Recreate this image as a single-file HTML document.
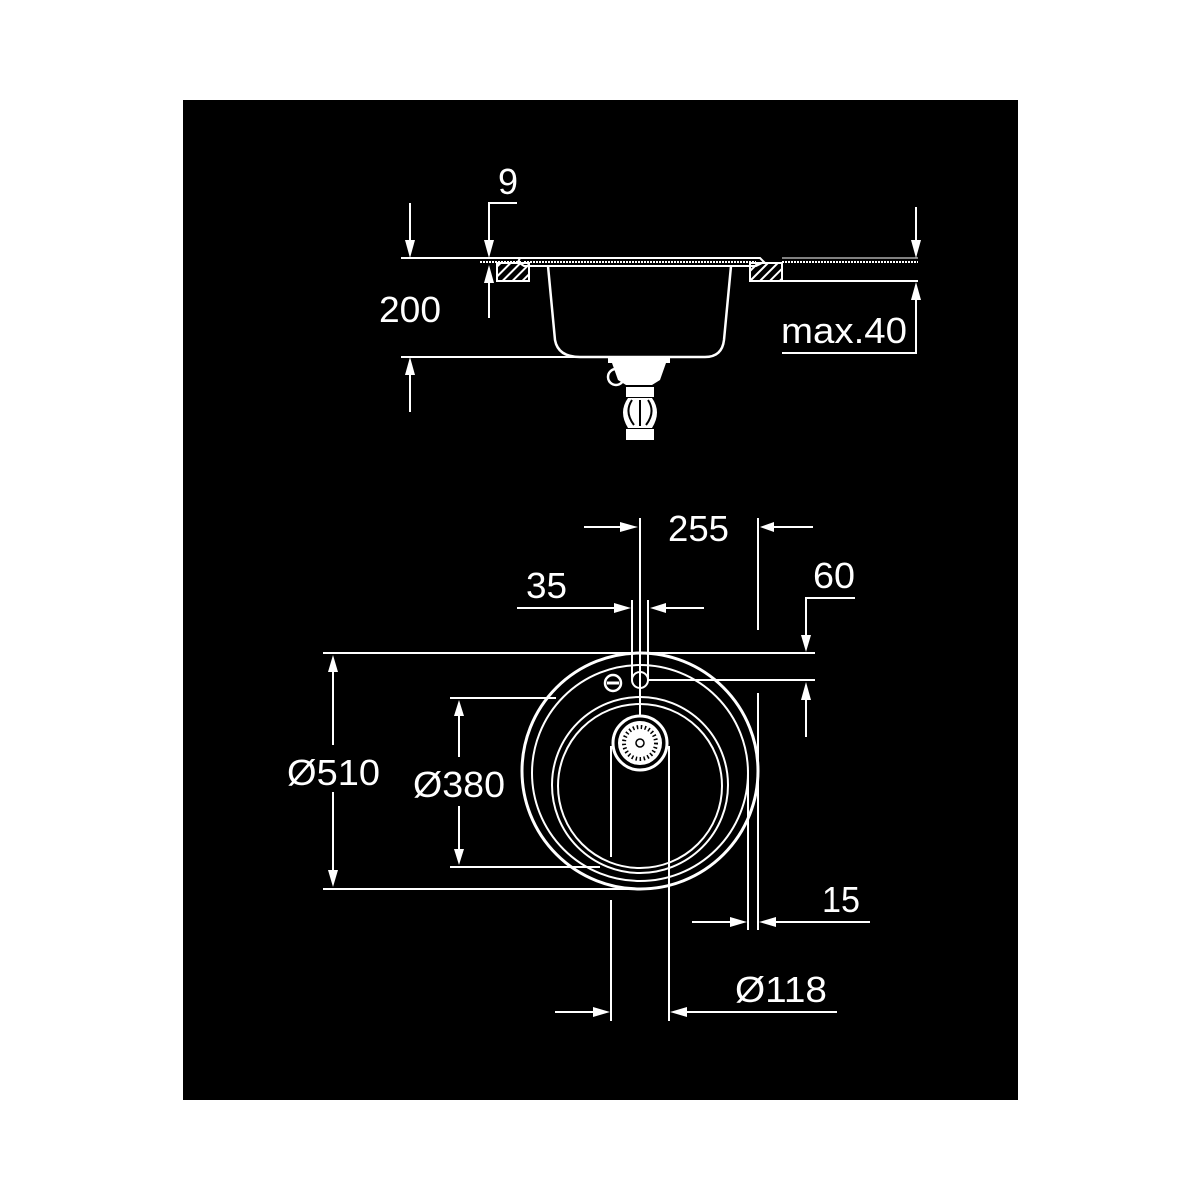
<!DOCTYPE html>
<html><head><meta charset="utf-8"><style>
html,body{margin:0;padding:0;background:#fff;}
svg{display:block;}
text{font-family:"Liberation Sans",sans-serif;font-size:36px;fill:#fff;}
</style></head><body>
<svg width="1200" height="1200" viewBox="0 0 1200 1200" xmlns="http://www.w3.org/2000/svg">
<defs>
<pattern id="h" width="7" height="7" patternUnits="userSpaceOnUse" patternTransform="rotate(45)">
<rect width="7" height="7" fill="#000"/><rect width="2" height="7" fill="#fff"/>
</pattern>
</defs>
<rect x="0" y="0" width="1200" height="1200" fill="#fff"/>
<rect x="183" y="100" width="835" height="1000" fill="#000"/>
<g stroke="#fff" stroke-width="2" fill="none">
<!-- TOP VIEW -->
<line x1="401" y1="258" x2="522" y2="258"/>
<line x1="480" y1="262" x2="522" y2="262" stroke-dasharray="2 1"/>
<rect x="497" y="263" width="32" height="18" fill="url(#h)"/>
<rect x="750" y="263" width="32" height="18" fill="url(#h)"/>
<line x1="782" y1="262" x2="918" y2="262" stroke-dasharray="2 1"/>
<line x1="750" y1="281" x2="918" y2="281"/>
<line x1="782" y1="258" x2="918" y2="258" stroke-width="1"/>
<path d="M520 258 L760 258 L764 262 L756 266 L524 266 L518 262 Z" stroke-width="2"/>
<line x1="524" y1="262" x2="756" y2="262" stroke-dasharray="2 1"/>
<path d="M548 266 L555 340 Q558 357 580 357 L705 357 Q722 357 724 340 L731 266" stroke-width="2.5"/>
<line x1="401" y1="357" x2="580" y2="357"/>
<!-- drain side -->
<g fill="#fff" stroke="none">
<rect x="608" y="358" width="62" height="5"/>
<path d="M612 363 L666 363 L660 380 L652 385 L626 385 L618 380 Z"/>
<circle cx="616" cy="377" r="8" fill="none" stroke="#fff" stroke-width="2.5"/>
<rect x="626" y="387" width="28" height="10"/>
<path d="M628 398 Q618 412 628 428 L652 428 Q662 412 652 398 Z"/>
<rect x="626" y="429" width="28" height="11"/>
</g>
<path d="M632 400 Q624 412 634 425 M648 400 Q656 412 646 425 M640 400 L640 426" stroke="#000" stroke-width="2"/>
<!-- 200 -->
<line x1="410" y1="203" x2="410" y2="240"/>
<line x1="410" y1="375" x2="410" y2="412"/>
<!-- 9 -->
<polyline points="517,203 489,203 489,240"/>
<line x1="489" y1="283" x2="489" y2="318"/>
<!-- max.40 -->
<line x1="916" y1="207" x2="916" y2="240"/>
<polyline points="782,353 916,353 916,300"/>
<!-- BOTTOM VIEW circles -->
<circle cx="640" cy="771" r="118" stroke-width="3"/>
<circle cx="640" cy="773" r="108"/>
<circle cx="640" cy="785" r="88"/>
<circle cx="640" cy="786" r="82"/>
<!-- drain -->
<circle cx="640" cy="743" r="27" stroke-width="3"/>
<circle cx="640" cy="743" r="22" fill="#fff" stroke="none"/>
<circle cx="640" cy="743" r="16" stroke="#000" stroke-width="4" stroke-dasharray="1.5 2.5"/>
<circle cx="640" cy="743" r="4" stroke="#000" stroke-width="1.5"/>
<line x1="611" y1="746" x2="611" y2="857"/>
<line x1="611" y1="900" x2="611" y2="1021"/>
<line x1="669" y1="746" x2="669" y2="1021"/>
<!-- tap -->
<circle cx="640" cy="680" r="8"/>
<line x1="632" y1="600" x2="632" y2="680"/>
<line x1="648" y1="600" x2="648" y2="680"/>
<line x1="640" y1="518" x2="640" y2="716"/>
<ellipse cx="613" cy="683" rx="8" ry="8" stroke-width="2.5"/>
<line x1="607" y1="683" x2="619" y2="683" stroke-width="3"/>
<!-- 255 -->
<line x1="584" y1="527" x2="620" y2="527"/>
<line x1="774" y1="527" x2="813" y2="527"/>
<line x1="758" y1="518" x2="758" y2="630"/>
<!-- 35 -->
<line x1="517" y1="608" x2="614" y2="608"/>
<line x1="666" y1="608" x2="704" y2="608"/>
<!-- 60 -->
<polyline points="855,598 806,598 806,635"/>
<line x1="806" y1="700" x2="806" y2="737"/>
<line x1="323" y1="653" x2="815" y2="653"/>
<line x1="648" y1="680" x2="815" y2="680"/>
<!-- 510 -->
<line x1="333" y1="672" x2="333" y2="745"/>
<line x1="333" y1="792" x2="333" y2="870"/>
<line x1="323" y1="889" x2="640" y2="889"/>
<!-- 380 -->
<line x1="450" y1="698" x2="556" y2="698"/>
<line x1="450" y1="867" x2="600" y2="867"/>
<line x1="459" y1="716" x2="459" y2="757"/>
<line x1="459" y1="806" x2="459" y2="849"/>
<!-- 15 -->
<line x1="748" y1="770" x2="748" y2="930"/>
<line x1="758" y1="693" x2="758" y2="930"/>
<line x1="692" y1="922" x2="730" y2="922"/>
<line x1="776" y1="922" x2="870" y2="922"/>
<!-- 118 -->
<line x1="555" y1="1012" x2="593" y2="1012"/>
<line x1="687" y1="1012" x2="837" y2="1012"/>
</g>
<g fill="#fff">
<!-- arrowheads -->
<polygon points="405,240 415,240 410,258"/>
<polygon points="405,375 415,375 410,357"/>
<polygon points="484,240 494,240 489,258"/>
<polygon points="484,283 494,283 489,265"/>
<polygon points="911,240 921,240 916,258"/>
<polygon points="911,300 921,300 916,282"/>
<polygon points="620,522 620,532 638,527"/>
<polygon points="774,522 774,532 760,527"/>
<polygon points="614,603 614,613 631,608"/>
<polygon points="666,603 666,613 650,608"/>
<polygon points="801,635 811,635 806,652"/>
<polygon points="801,700 811,700 806,682"/>
<polygon points="328,672 338,672 333,655"/>
<polygon points="328,870 338,870 333,887"/>
<polygon points="454,716 464,716 459,700"/>
<polygon points="454,849 464,849 459,865"/>
<polygon points="730,917 730,927 747,922"/>
<polygon points="776,917 776,927 759,922"/>
<polygon points="593,1007 593,1017 610,1012"/>
<polygon points="687,1007 687,1017 670,1012"/>
</g>
<text x="498" y="194">9</text>
<text x="379" y="322" textLength="62" lengthAdjust="spacingAndGlyphs">200</text>
<text x="781" y="343" textLength="126" lengthAdjust="spacingAndGlyphs">max.40</text>
<text x="668" y="541" textLength="61" lengthAdjust="spacingAndGlyphs">255</text>
<text x="526" y="598" textLength="41" lengthAdjust="spacingAndGlyphs">35</text>
<text x="813" y="588" textLength="42" lengthAdjust="spacingAndGlyphs">60</text>
<text x="287" y="785" textLength="93" lengthAdjust="spacingAndGlyphs">Ø510</text>
<text x="413" y="797" textLength="92" lengthAdjust="spacingAndGlyphs">Ø380</text>
<text x="822" y="912" textLength="38" lengthAdjust="spacingAndGlyphs">15</text>
<text x="735" y="1002" textLength="92" lengthAdjust="spacingAndGlyphs">Ø118</text>
</svg>
</body></html>
